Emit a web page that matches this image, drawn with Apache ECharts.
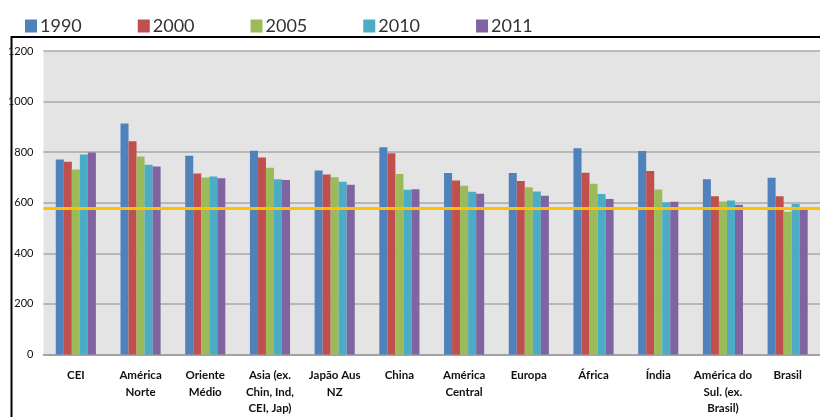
<!DOCTYPE html>
<html><head><meta charset="utf-8">
<script src="https://cdn.jsdelivr.net/npm/echarts@6/dist/echarts.min.js"></script>
<style>html,body{margin:0;padding:0;background:#fff}#c{width:820px;height:417px}</style>
</head><body><div id="c"></div>
<script>
const categories = ['CEI','América\nNorte','Oriente\nMédio','Asia (ex.\nChin, Ind,\nCEI, Jap)','Japão Aus\nNZ','China','América\nCentral','Europa','África','Índia','América do\nSul. (ex.\nBrasil)','Brasil'];
const seriesNames = ['1990','2000','2005','2010','2011'];
const v1990 = [771, 913, 786, 806, 728, 819, 718, 718, 815, 805, 693, 699];
const v2000 = [762, 843, 716, 779, 712, 796, 688, 686, 719, 726, 626, 626];
const v2005 = [731, 783, 700, 738, 701, 714, 667, 661, 675, 652, 605, 564];
const v2010 = [791, 750, 704, 693, 683, 651, 643, 644, 635, 601, 609, 595];
const v2011 = [799, 743, 697, 690, 671, 653, 636, 628, 615, 604, 592, 578];
const referenceValue = 580;
const yTicks = [0, 200, 400, 600, 800, 1000, 1200];

const colors = ['#4f81bd','#c0504d','#9bbb59','#4bacc6','#8064a2'];
const values = [v1990, v2000, v2005, v2010, v2011];
const font = "Lato,'Open Sans',sans-serif";

const chart = echarts.init(document.getElementById('c'), null, {renderer:'canvas'});
const series = seriesNames.map((n,i)=>({
  name:n, type:'bar', data:values[i], barGap:'0%', barCategoryGap:'38%',
  itemStyle:{color:colors[i]}, z:2,
  markLine: i===0 ? {silent:true, symbol:'none', label:{show:false},
    lineStyle:{color:'#ffc000', width:3, type:'solid'}, data:[{yAxis:referenceValue}], z:5} : undefined
}));
chart.setOption({
  animation:false,
  backgroundColor:'#fff',
  graphic:[{type:'rect', z:-1, shape:{x:11.5, y:37, width:900, height:500}, style:{fill:'none', stroke:'#000', lineWidth:2}}],
  legend:{left:20, top:12, itemWidth:12, itemHeight:13, itemGap:56, icon:'rect',
    textStyle:{fontFamily:font, fontSize:18, color:'#333', padding:[0,0,0,-2]}},
  grid:{left:43.5, top:51, width:780, height:308, containLabel:false, show:true, backgroundColor:'#e4e4e4', borderWidth:0},
  xAxis:{type:'category', data:categories,
    axisLine:{lineStyle:{color:'#9a9a9a', width:1.5}}, axisTick:{show:false},
    axisLabel:{interval:0, margin:13, fontFamily:font, fontWeight:'bold', fontSize:11.5, lineHeight:16.5, color:'#111'}},
  yAxis:{type:'value', min:yTicks[0], max:yTicks[yTicks.length-1], interval:200,
    axisLine:{show:false}, axisTick:{show:false},
    splitLine:{lineStyle:{color:'#a8a8a8', width:1.5}},
    axisLabel:{margin:10, fontFamily:font, fontSize:11, color:'#111', formatter:(v)=>String(v)}},
  series: series
});
</script></body></html>
